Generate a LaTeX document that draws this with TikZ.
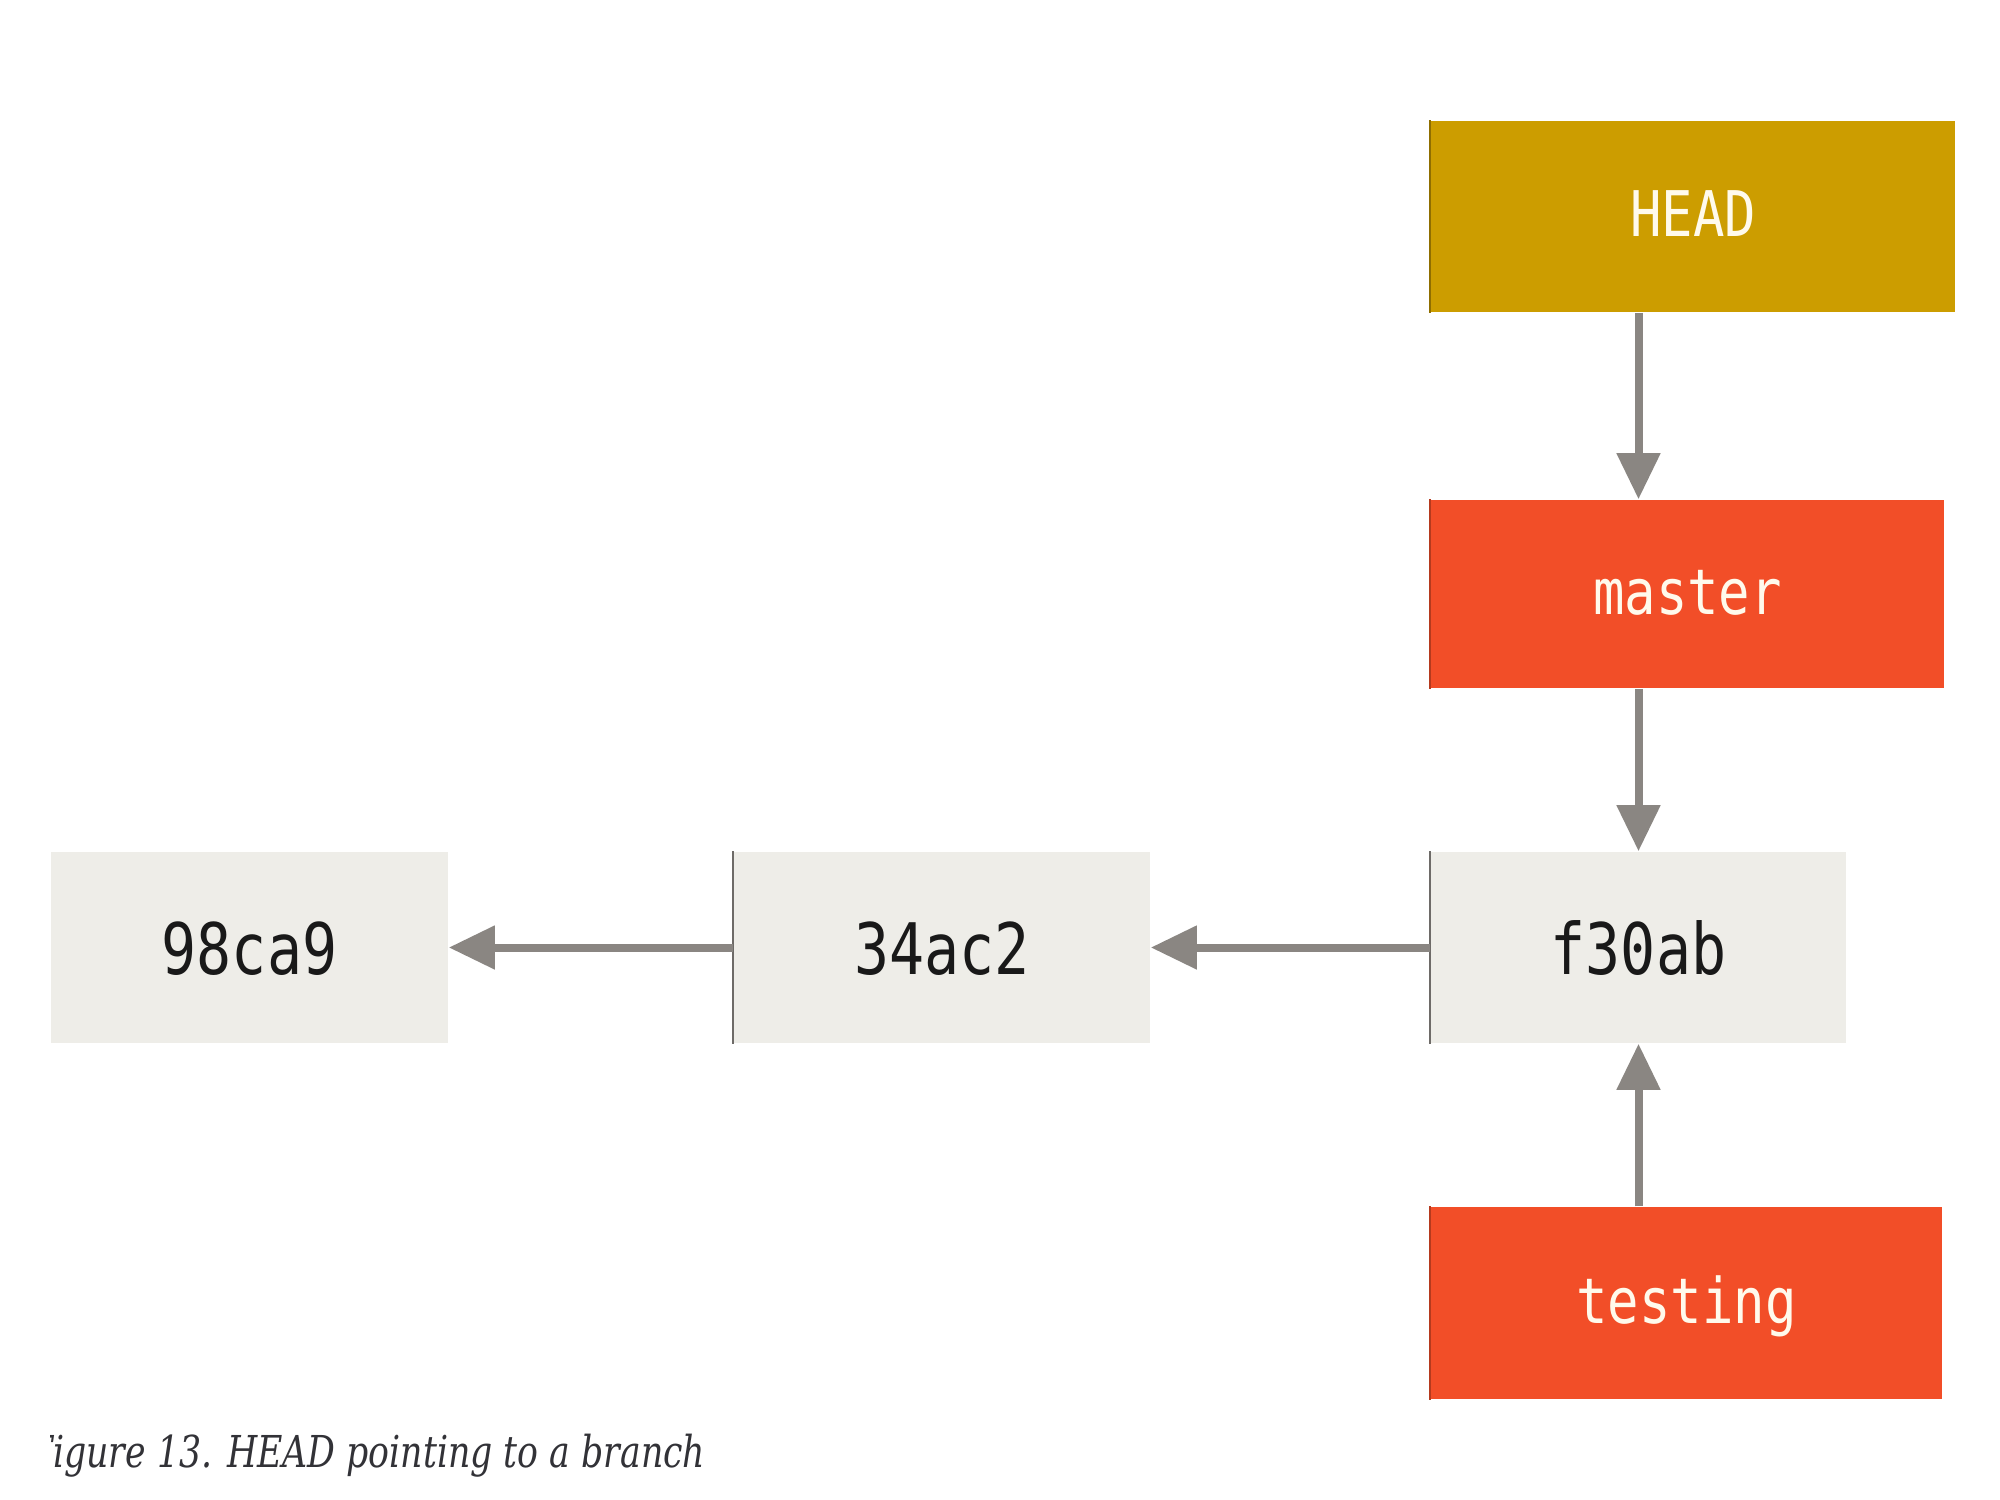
\documentclass[tikz,border=0pt]{standalone}
\usepackage{fontspec}
\usetikzlibrary{arrows.meta}
\newfontfamily\commitfont[FakeStretch=0.82]{DejaVu Sans Mono}
\newfontfamily\branchfont[FakeStretch=0.83]{DejaVu Sans Mono}
\newfontfamily\capfont[FakeStretch=0.79]{DejaVu Serif}
\definecolor{headgold}{RGB}{204,157,0}
\definecolor{branchred}{RGB}{242,78,40}
\definecolor{commitfill}{RGB}{238,237,232}
\definecolor{arrowgray}{RGB}{138,134,130}
\definecolor{branchtext}{RGB}{255,250,236}
\definecolor{captext}{RGB}{50,50,55}
\tikzset{
  boxbase/.style={rectangle, inner sep=0pt, draw=none, minimum height=1.91cm},
  commitbox/.style={boxbase, fill=commitfill, text=black!90,
    font=\commitfont\fontsize{20.2}{24}\selectfont, text height=0.54cm, text depth=0pt},
  branchbox/.style={boxbase, fill=branchred, text=branchtext,
    font=\branchfont\fontsize{17.9}{22}\selectfont, text height=0.40cm, text depth=0pt},
  headbox/.style={branchbox, fill=headgold},
  arr/.style={draw=arrowgray, line width=0.08cm,
    -{Triangle[length=0.46cm,width=0.42cm,fill=arrowgray]}},
  leftedge/.style={draw=arrowgray!80!black, line width=0.02cm},
}
\begin{document}
\begin{tikzpicture}[x=0.01cm,y=-0.01cm]
\useasboundingbox (0,0) rectangle (2000,1500);
\fill[white] (0,0) rectangle (2000,1500);

\node[headbox, minimum width=5.24cm, minimum height=1.91cm] (HEAD) at (1693,216.5) {HEAD};
\node[branchbox, minimum width=5.13cm, minimum height=1.88cm] (master) at (1687.5,594) {master};
\node[commitbox, minimum width=4.15cm] (f30ab) at (1638.5,947.5) {f30ab};
\node[commitbox, minimum width=4.16cm] (c34ac2) at (942,947.5) {34ac2};
\node[commitbox, minimum width=3.97cm] (c98ca9) at (249.5,947.5) {98ca9};
\node[branchbox, minimum width=5.11cm, minimum height=1.92cm] (testing) at (1686.5,1303) {testing};

\draw[draw=headgold!70!black, line width=0.015cm] (HEAD.north west) -- (HEAD.south west);
\draw[draw=branchred!75!black, line width=0.015cm] (master.north west) -- (master.south west);
\draw[draw=branchred!75!black, line width=0.015cm] (testing.north west) -- (testing.south west);
\draw[leftedge] (f30ab.north west) -- (f30ab.south west);
\draw[leftedge] (c34ac2.north west) -- (c34ac2.south west);

\draw[arr] (HEAD.south -| f30ab.center) -- (master.north -| f30ab.center);
\draw[arr] (master.south -| f30ab.center) -- (f30ab.north);
\draw[arr] (testing.north -| f30ab.center) -- (f30ab.south);
\draw[arr] (f30ab.west) -- (c34ac2.east);
\draw[arr] (c34ac2.west) -- (c98ca9.east);

\begin{scope}
\clip (50,1400) rectangle (2000,1500);
\node[anchor=base east, inner sep=0pt, text=captext,
  font=\capfont\itshape\fontsize{12.5}{15}\selectfont] (caption) at (706,1467)
  {Figure 13. HEAD pointing to a branch};
\end{scope}
\end{tikzpicture}
\end{document}
